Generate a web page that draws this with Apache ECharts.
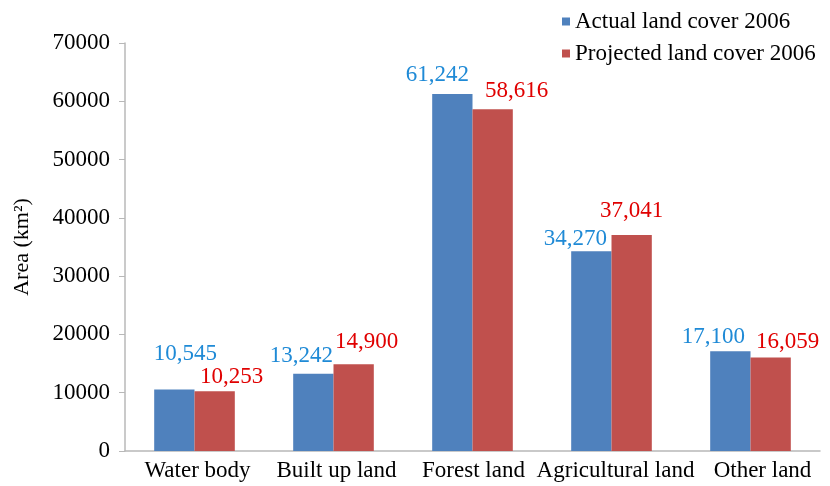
<!DOCTYPE html>
<html>
<head>
<meta charset="utf-8">
<script src="https://cdn.jsdelivr.net/npm/echarts@6/dist/echarts.min.js"></script>
<style>html,body{margin:0;padding:0;background:#fff}#c{width:830px;height:486px}</style>
</head>
<body>
<div id="c"></div>
<script>
const categories = ['Water body', 'Built up land', 'Forest land', 'Agricultural land', 'Other land'];
const actual2006 = [10545, 13242, 61242, 34270, 17100];
const projected2006 = [10253, 14900, 58616, 37041, 16059];
const seriesNames = ['Actual land cover 2006', 'Projected land cover 2006'];

// label nudges (layout only), as placed in the reference
const actualLabelShift = [[11, -24], [-12, -6], [-15, -8], [-16, -1], [-17, -3]];
const projectedLabelShift = [[17, -3], [13, -11], [24, -7], [0, -13], [17, -4]];
const categoryLabelPadLeft = [6, 6, 2, 8, 24];

const FONT = '"Liberation Serif", "Times New Roman", serif';
const FS = 23;

function fmt(v) { return v.toLocaleString('en-US'); }

function mk(values, shifts) {
  return values.map((v, i) => ({
    value: v,
    label: { offset: shifts[i] }
  }));
}

const chart = echarts.init(document.getElementById('c'), null, { renderer: 'canvas' });
chart.setOption({
  animation: false,
  backgroundColor: '#fff',
  textStyle: { fontFamily: FONT },
  legend: {
    orient: 'vertical',
    left: 562,
    top: 10,
    itemWidth: 8,
    itemHeight: 8,
    itemGap: 9,
    icon: 'rect',
    padding: 0,
    textStyle: { fontFamily: FONT, fontSize: FS, color: '#000' },
    data: seriesNames
  },
  grid: { left: 125, right: 10, top: 43, bottom: 35, containLabel: false },
  xAxis: {
    type: 'category',
    data: categories.map((c, i) => ({ value: c, textStyle: { padding: [0, 0, 0, categoryLabelPadLeft[i]] } })),
    axisLine: { lineStyle: { color: '#b8b8b8', width: 1.5 } },
    axisTick: { show: false },
    axisLabel: { fontFamily: FONT, fontSize: FS, color: '#000', margin: 8, interval: 0 }
  },
  yAxis: {
    type: 'value',
    min: 0,
    max: 70000,
    interval: 10000,
    name: 'Area (km²)',
    nameLocation: 'middle',
    nameGap: 92,
    nameTextStyle: { fontFamily: FONT, fontSize: 22, color: '#000' },
    axisLine: { show: true, lineStyle: { color: '#b8b8b8', width: 1.5 } },
    axisTick: { show: true, length: 6, lineStyle: { color: '#b8b8b8' } },
    splitLine: { show: false },
    axisLabel: { fontFamily: FONT, fontSize: FS, color: '#000', margin: 15, formatter: v => String(v) }
  },
  series: [
    {
      name: seriesNames[0],
      type: 'bar',
      data: mk(actual2006, actualLabelShift),
      barGap: '0%',
      barCategoryGap: '42%',
      itemStyle: { color: '#4f81bd' },
      label: {
        show: true, position: 'top', distance: 0,
        fontFamily: FONT, fontSize: FS, color: '#1f8ad6',
        formatter: p => fmt(p.value)
      }
    },
    {
      name: seriesNames[1],
      type: 'bar',
      data: mk(projected2006, projectedLabelShift),
      barGap: '0%',
      barCategoryGap: '42%',
      itemStyle: { color: '#c0504d' },
      label: {
        show: true, position: 'top', distance: 0,
        fontFamily: FONT, fontSize: FS, color: '#e00000',
        formatter: p => fmt(p.value)
      }
    }
  ]
});
</script>
</body>
</html>
